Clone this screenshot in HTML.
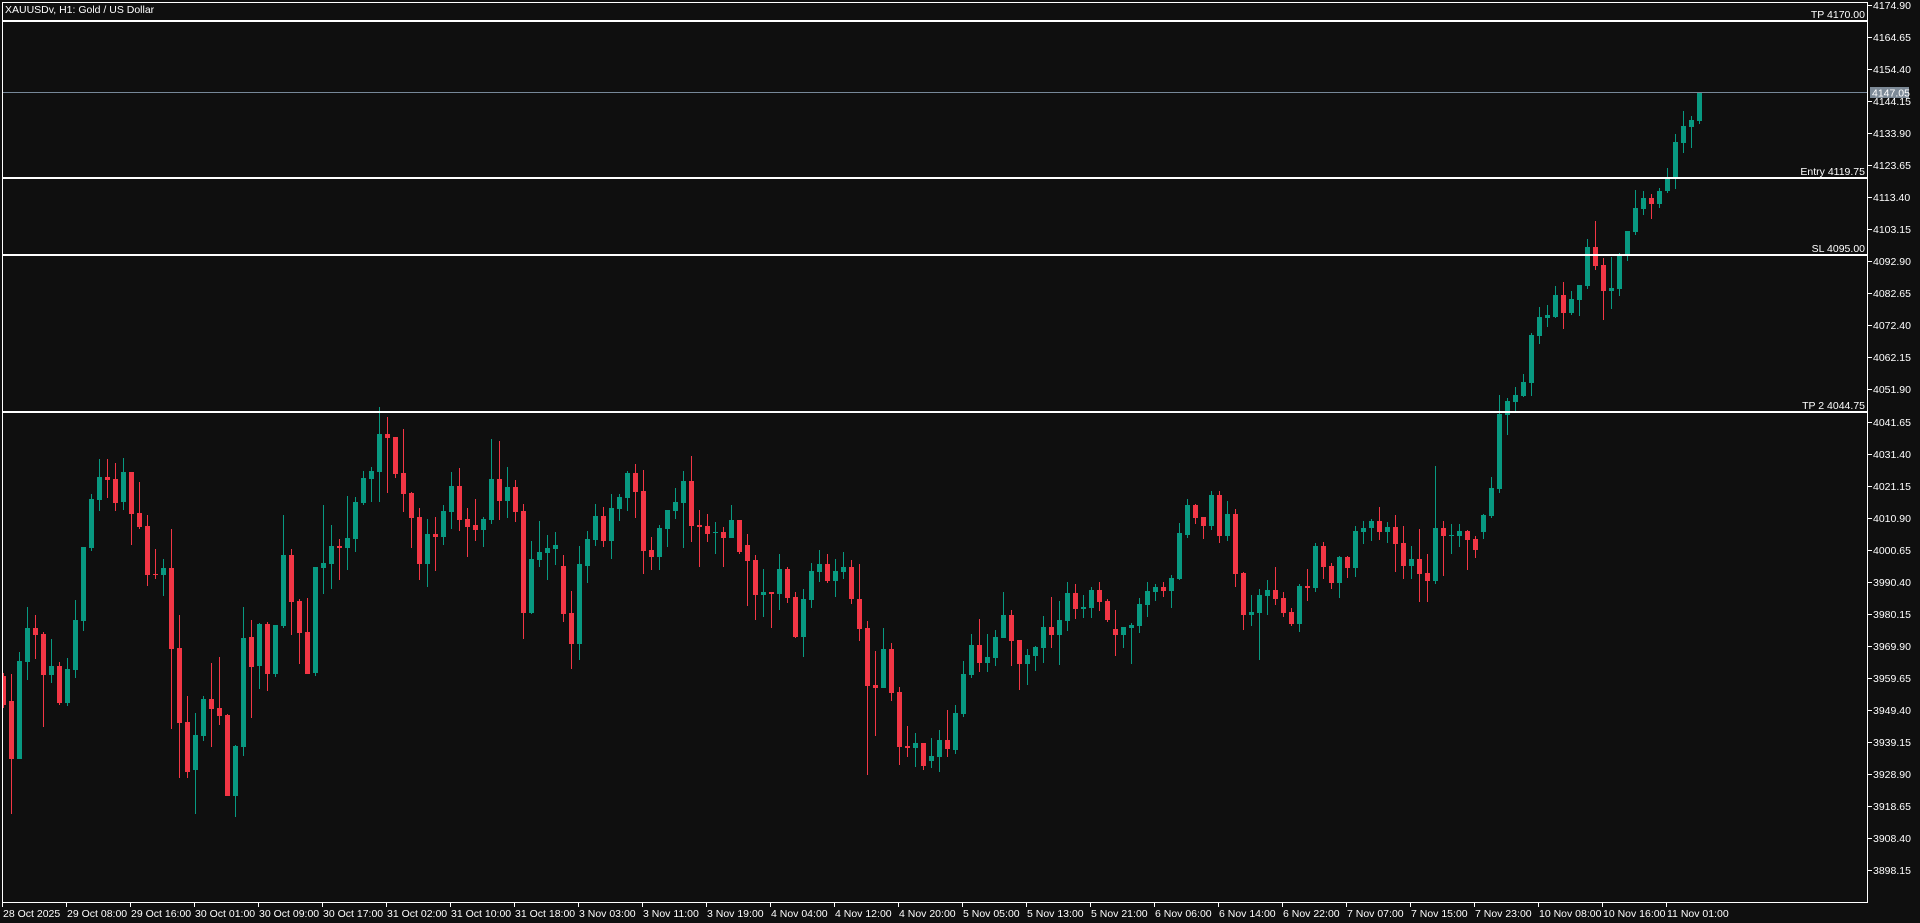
<!DOCTYPE html>
<html><head><meta charset="utf-8">
<style>
html,body{margin:0;padding:0;background:#0f0f0f;width:1920px;height:923px;overflow:hidden}
svg{display:block}
text{font-family:"Liberation Sans","DejaVu Sans",sans-serif;font-size:10.5px;fill:#fff}
</style></head><body>
<svg id="s" width="1920" height="923" xmlns="http://www.w3.org/2000/svg" shape-rendering="crispEdges">
<rect x="0" y="0" width="1920" height="923" fill="#0f0f0f"/>
<g id="c"></g>
<line x1="2" y1="2.5" x2="1867" y2="2.5" stroke="#fff" stroke-width="1"/>
<line x1="2.5" y1="2" x2="2.5" y2="902" stroke="#fff" stroke-width="1"/>
<line x1="1867.5" y1="2" x2="1867.5" y2="903" stroke="#fff" stroke-width="1"/>
<line x1="2" y1="902.5" x2="1868" y2="902.5" stroke="#fff" stroke-width="1"/>
<line x1="3" y1="92.5" x2="1867" y2="92.5" stroke="#778899" stroke-width="1"/>
<rect x="3" y="20" width="1864" height="2" fill="#fff"/>
<rect x="3" y="177" width="1864" height="2" fill="#fff"/>
<rect x="3" y="254" width="1864" height="2" fill="#fff"/>
<rect x="3" y="411" width="1864" height="2" fill="#fff"/>
<text x="1865" y="18" text-anchor="end">TP 4170.00</text>
<text x="1865" y="175" text-anchor="end">Entry 4119.75</text>
<text x="1865" y="252" text-anchor="end">SL 4095.00</text>
<text x="1865" y="409" text-anchor="end">TP 2 4044.75</text>
<text x="5" y="13">XAUUSDv, H1:  Gold / US Dollar</text>
<g id="ax"></g>
<rect x="1870" y="87" width="39" height="11" fill="#7d8a97"/>
<text x="1872" y="96.5">4147.05</text>
</svg>
<script>
var G='#089981',R='#f23645';
function zz(a){return a.map(function(c){return [400+c[0]/3,400+c[1]/3,400+c[2]/3,400+c[3]/3,c[4]];});}
var z9=[[828,915,820,925,'R'],[903,1077,822,1242,'R'],[783,1077,756,1077,'G'],[684,786,621,840,'G'],[684,705,645,777,'R'],[702,825,696,981,'R'],[798,825,717,849,'G'],[798,909,786,915,'R'],[807,909,774,918,'G'],[660,810,600,834,'G'],[441,663,441,693,'G'],[297,444,282,453,'G'],[231,300,177,333,'G'],[231,240,177,294,'R'],[237,309,189,333,'R'],[216,306,174,330,'G'],[216,342,216,435,'R'],[339,381,246,387,'R'],[378,525,345,558,'R'],[521,525,447,537,'R'],[504,525,477,588,'G'],[504,747,387,987,'R'],[744,969,645,1134,'R'],[966,1116,888,1134,'R'],[1005,1110,939,1242,'G'],[897,1008,888,1023,'G'],[897,927,789,1041,'R'],[924,948,771,975,'R'],[945,1188,942,1188,'R'],[1038,1188,1035,1251,'G'],[714,1041,621,1068,'G'],[711,801,660,954,'R'],[672,798,669,867,'G'],[672,822,666,873,'R'],[675,822,675,831,'G'],[465,678,345,684,'G'],[465,606,447,705,'R'],[603,699,597,792,'R'],[696,822,594,822,'R'],[501,819,501,828,'G'],[489,504,315,582,'G'],[438,492,375,567,'G'],[438,444,417,540,'R'],[414,444,288,510,'G'],[306,417,291,456,'G'],[234,309,213,315,'G'],[213,237,201,306,'G'],[102,216,21,306,'G']];
var z10=[[102,114,51,279,'R'],[111,222,111,234,'R'],[219,282,87,336,'R'],[279,354,276,444,'R'],[351,492,324,540,'R'],[402,492,357,561,'G'],[402,411,351,513,'R'],[333,411,315,435,'G'],[258,336,216,387,'G'],[258,360,204,393,'R'],[357,381,324,471,'R'],[375,390,297,423,'R'],[357,390,351,441,'G'],[237,360,117,372,'G'],[237,303,123,360,'R'],[261,303,201,354,'G'],[261,336,240,366,'R'],[333,639,312,717,'R'],[477,639,423,642,'G'],[456,480,363,501,'G'],[444,459,405,540,'G'],[435,447,396,495,'G'],[498,642,465,666,'R'],[639,732,573,807,'R'],[492,732,438,780,'G'],[417,498,393,549,'G'],[348,420,312,438,'G'],[348,423,321,441,'R'],[324,423,282,477,'G'],[291,327,282,363,'G'],[219,294,213,333,'G'],[219,276,192,354,'R'],[273,453,210,522,'R'],[450,471,411,510,'R'],[384,471,375,510,'G'],[330,387,330,441,'G'],[306,333,264,357,'G'],[243,309,213,444,'G'],[243,378,168,426,'R'],[375,381,330,501,'R'],[378,402,342,426,'R'],[396,399,366,462,'G'],[396,414,381,501,'R'],[360,414,315,414,'G'],[360,456,360,462,'R'],[435,483,402,618,'R'],[480,585,465,660,'R']];
var z11=[[576,585,507,651,'G'],[576,582,576,684,'R'],[507,582,462,630,'G'],[507,594,501,609,'R'],[591,711,576,714,'R'],[597,711,567,771,'G'],[513,600,489,624,'G'],[492,516,450,546,'G'],[492,543,462,549,'R'],[513,543,477,591,'G'],[501,516,456,537,'G'],[501,597,480,612,'R'],[597,687,492,723,'R'],[684,858,663,1125,'R'],[855,864,753,1008,'R'],[747,864,684,864,'G'],[747,879,729,903,'R'],[876,1041,861,1095,'R'],[1038,1044,978,1071,'R'],[1029,1044,999,1101,'G'],[1029,1098,1029,1110,'R'],[1068,1083,1014,1104,'G'],[1020,1071,990,1116,'G'],[1020,1047,930,1071,'R'],[939,1050,915,1062,'G'],[822,942,783,951,'G'],[735,825,702,834,'G'],[735,789,657,816,'R'],[771,789,702,816,'G'],[711,774,690,798,'G'],[645,714,576,714,'G'],[645,723,630,798,'R'],[720,792,720,870,'R'],[765,792,747,855,'G'],[741,768,738,813,'G'],[681,744,648,789,'G'],[681,705,591,744,'R'],[660,705,603,795,'G'],[579,663,546,693,'G'],[579,627,552,657,'R'],[621,627,585,654,'G'],[570,624,561,654,'G'],[570,606,546,633,'R'],[603,660,597,666,'R'],[687,705,630,768,'R'],[681,705,681,744,'G'],[675,684,669,792,'G']];
var z12=[[612,678,594,699,'G'],[573,615,546,651,'G'],[561,576,552,603,'G'],[561,573,546,591,'R'],[534,573,525,624,'G'],[399,537,369,540,'G'],[315,405,297,414,'G'],[315,354,312,372,'R'],[351,378,351,417,'R'],[285,378,273,390,'G'],[285,408,273,429,'R'],[342,408,303,423,'G'],[342,522,327,561,'R'],[519,645,516,690,'R'],[636,645,585,678,'G'],[585,639,567,780,'G'],[570,588,540,645,'G'],[570,597,501,615,'R'],[594,639,576,651,'R'],[636,672,624,678,'R'],[558,672,552,696,'G'],[558,564,507,603,'R'],[438,564,429,576,'G'],[438,501,426,537,'R'],[498,549,489,567,'R'],[471,549,468,594,'G'],[471,504,468,534,'R'],[393,504,378,531,'G'],[384,396,363,432,'G'],[363,384,357,423,'G'],[363,396,321,420,'R'],[381,396,366,429,'G'],[381,432,345,516,'R'],[429,498,378,537,'R'],[477,498,438,537,'G'],[477,522,387,606,'R'],[519,543,462,606,'R'],[384,543,198,552,'G'],[384,408,363,528,'R'],[405,408,372,462,'G'],[393,408,372,441,'G'],[393,420,390,510,'R'],[417,450,408,474,'R'],[345,396,342,417,'G'],[264,348,231,354,'G'],[42,267,-15,279,'G']];
var z7=[[401,415,398,435,'G'],[395,402,387,411,'G'],[382,396,374,397,'G'],[335,383,333,396,'G'],[317,336,307,344,'G'],[315,318,305,327,'G'],[295,317,286,318,'G'],[295,313,282,329,'R'],[299,313,291,315,'G'],[285,300,285,316,'G'],[247,286,239,289,'G'],[247,266,221,270,'R'],[265,291,258,320,'R'],[288,291,257,309,'G'],[255,289,253,296,'G'],[231,254,231,261,'G'],[208,232,190,235,'G'],[198,209,191,215,'G'],[198,204,194,219,'R'],[191,204,188,208,'G'],[179,191,168,193,'G'],[142,178,134,189,'G'],[126,143,111,153,'G'],[120,127,116,148,'G'],[92,121,92,124,'G']];
var all=[].concat(zz(z9),zz(z10),zz(z11),zz(z12),z7);
var h='';
for(var i=0;i<all.length;i++){var c=all[i],x=3+8*i,col=c[4]=='G'?G:R;
var bt=Math.round(c[0]),bb=Math.round(c[1]),wt=Math.round(c[2]),wb=Math.round(c[3]);
if(bb-bt<1)bb=bt+1;
if(x<3)continue;
h+='<rect x="'+x+'" y="'+wt+'" width="1" height="'+Math.max(1,wb-wt)+'" fill="'+col+'"/>';
var bx=Math.max(3,x-2);
h+='<rect x="'+bx+'" y="'+bt+'" width="'+(x+3-bx)+'" height="'+(bb-bt)+'" fill="'+col+'"/>';}
document.getElementById('c').innerHTML=h;
var a='';
for(var k=0;k<=27;k++){var p=(4174.90-10.25*k).toFixed(2),y=Math.round(5+k*32.04);
a+='<line x1="1867" y1="'+(y+0.5)+'" x2="1872" y2="'+(y+0.5)+'" stroke="#fff"/>';
a+='<text x="1873" y="'+(y+4)+'">'+p+'</text>';}
var L=['28 Oct 2025','29 Oct 08:00','29 Oct 16:00','30 Oct 01:00','30 Oct 09:00','30 Oct 17:00','31 Oct 02:00','31 Oct 10:00','31 Oct 18:00','3 Nov 03:00','3 Nov 11:00','3 Nov 19:00','4 Nov 04:00','4 Nov 12:00','4 Nov 20:00','5 Nov 05:00','5 Nov 13:00','5 Nov 21:00','6 Nov 06:00','6 Nov 14:00','6 Nov 22:00','7 Nov 07:00','7 Nov 15:00','7 Nov 23:00','10 Nov 08:00','10 Nov 16:00','11 Nov 01:00'];
for(var j=0;j<L.length;j++){var tx=2+64*j;
a+='<line x1="'+(tx+0.5)+'" y1="902" x2="'+(tx+0.5)+'" y2="907" stroke="#fff"/>';
a+='<text x="'+(tx+1)+'" y="917">'+L[j]+'</text>';}
document.getElementById('ax').innerHTML=a;
</script>
</body></html>
